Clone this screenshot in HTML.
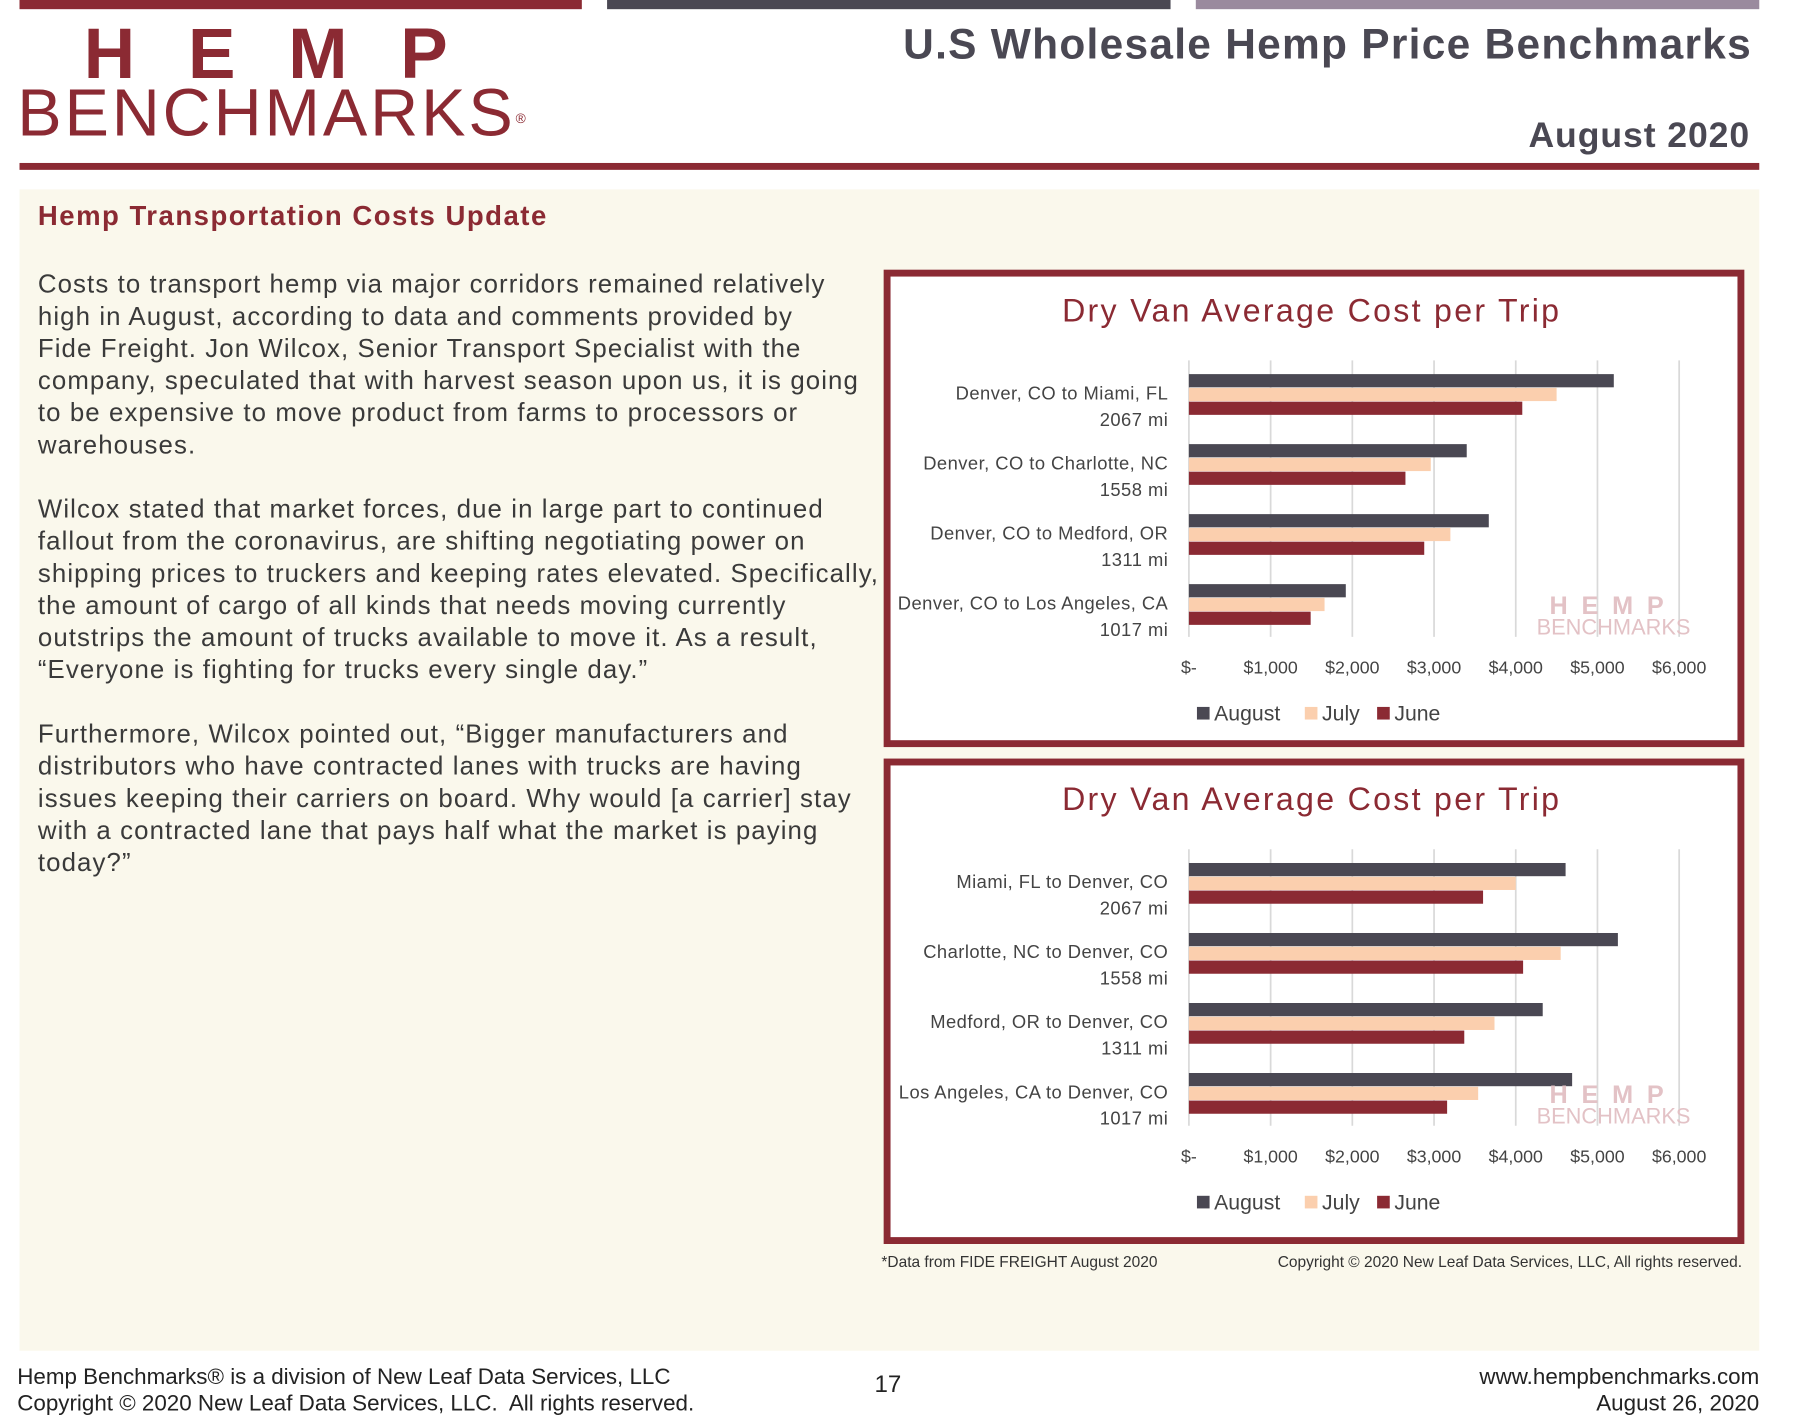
<!DOCTYPE html>
<html><head><meta charset="utf-8"><style>
html,body{margin:0;padding:0;background:#fff;width:1800px;height:1423px;overflow:hidden}
#wrap{position:absolute;left:0;top:0;width:1568px;height:1240px;transform-origin:0 0;transform:scale(1.1476,1.1476);font-family:"Liberation Sans",sans-serif}
.a{position:absolute;white-space:nowrap}
</style></head><body>
<div id="wrap">
<div class="a" style="left:17px;top:0;width:490px;height:8px;background:#8b2a33"></div>
<div class="a" style="left:529px;top:0;width:491px;height:8px;background:#4a4853"></div>
<div class="a" style="left:1042px;top:0;width:491px;height:8px;background:#9a8a9e"></div>
<div class="a" style="left:73px;top:17px;font-size:62px;font-weight:bold;color:#8b2a33;letter-spacing:46px;line-height:62px">HEMP</div>
<div class="a" style="left:15px;top:70px;font-size:58px;color:#8b2a33;line-height:58px;letter-spacing:2.5px">BENCHMARKS<sup style="font-size:12px;vertical-align:top;position:relative;top:4px">®</sup></div>
<div class="a" style="left:787px;top:18px;font-size:37px;font-weight:bold;color:#4a4853;letter-spacing:1.1px">U.S Wholesale Hemp Price Benchmarks</div>
<div class="a" style="right:43px;top:100px;font-size:31px;font-weight:bold;color:#4a4853;letter-spacing:0.8px">August 2020</div>
<div class="a" style="left:17px;top:142px;width:1516px;height:6px;background:#8b2a33"></div>
<div class="a" style="left:17px;top:165px;width:1516px;height:1012px;background:#faf8ec"></div>
<div class="a" style="left:33px;top:175px;font-size:24px;font-weight:bold;color:#8b2a33;letter-spacing:1.3px">Hemp Transportation Costs Update</div>
<div class="a" style="left:33px;top:234px;font-size:22.5px;line-height:28px;color:#3a3a3a;letter-spacing:0.95px">Costs to transport hemp via major corridors remained relatively<br>high in August, according to data and comments provided by<br>Fide Freight. Jon Wilcox, Senior Transport Specialist with the<br>company, speculated that with harvest season upon us, it is going<br>to be expensive to move product from farms to processors or<br>warehouses.<br><br>Wilcox stated that market forces, due in large part to continued<br>fallout from the coronavirus, are shifting negotiating power on<br>shipping prices to truckers and keeping rates elevated. Specifically,<br>the amount of cargo of all kinds that needs moving currently<br>outstrips the amount of trucks available to move it. As a result,<br>“Everyone is fighting for trucks every single day.”<br><br>Furthermore, Wilcox pointed out, “Bigger manufacturers and<br>distributors who have contracted lanes with trucks are having<br>issues keeping their carriers on board. Why would [a carrier] stay<br>with a contracted lane that pays half what the market is paying<br>today?”</div>
<svg id="charts" class="a" style="left:0;top:0" width="1568" height="1240"></svg>
<div class="a" style="left:768px;top:1092px;font-size:13.5px;color:#333">*Data from FIDE FREIGHT August 2020</div>
<div class="a" style="right:50px;top:1092px;font-size:13.5px;color:#333">Copyright © 2020 New Leaf Data Services, LLC, All rights reserved.</div>
<div class="a" style="left:15px;top:1189px;font-size:19.5px;line-height:23px;color:#222">Hemp Benchmarks® is a division of New Leaf Data Services, LLC<br>Copyright © 2020 New Leaf Data Services, LLC.&nbsp; All rights reserved.</div>
<div class="a" style="left:762px;top:1195px;font-size:21px;color:#222">17</div>
<div class="a" style="right:35px;top:1189px;font-size:19.5px;line-height:23px;color:#222;text-align:right">www.hempbenchmarks.com<br>August 26, 2020</div>
</div>
<script>
const ticks = ["$-","$1,000","$2,000","$3,000","$4,000","$5,000","$6,000"];
const tickValues = [0,1000,2000,3000,4000,5000,6000];
const seriesNames = ["August","July","June"];
const chart1Routes = ["Denver, CO to Miami, FL","Denver, CO to Charlotte, NC","Denver, CO to Medford, OR","Denver, CO to Los Angeles, CA"];
const chart1Miles = ["2067 mi","1558 mi","1311 mi","1017 mi"];
const chart1August = [5200,3400,3670,1920];
const chart1July = [4500,2960,3200,1660];
const chart1June = [4080,2650,2880,1490];
const chart2Routes = ["Miami, FL to Denver, CO","Charlotte, NC to Denver, CO","Medford, OR to Denver, CO","Los Angeles, CA to Denver, CO"];
const chart2Miles = ["2067 mi","1558 mi","1311 mi","1017 mi"];
const chart2August = [4610,5250,4330,4690];
const chart2July = [4000,4550,3740,3540];
const chart2June = [3600,4090,3370,3160];

const colors = ["#4a4853","#fbcfae","#8b2a33"];
const NS = "http://www.w3.org/2000/svg";
const svg = document.getElementById('charts');
function el(tag, attrs, parent, txt){
  const e = document.createElementNS(NS, tag);
  for (const k in attrs) e.setAttribute(k, attrs[k]);
  if (txt !== undefined) e.textContent = txt;
  (parent || svg).appendChild(e);
  return e;
}
function drawChart(top, h, routes, miles, series, id){
  const g = el('g', {});
  
  
  const fr = el('rect', {x:773, y:top+3, width:744, height:h-6, fill:'#fff', stroke:'#8b2a33', 'stroke-width':6}, g);
  
  
  const t = el('text', {x:1143, y:top+45, 'text-anchor':'middle', 'font-size':28, fill:'#8b2a33', 'letter-spacing':'2', 'font-family':'Liberation Sans, sans-serif'}, g, 'Dry Van Average Cost per Trip');
  
  
  const x0 = 1036, perK = 71.2;
  const xs = v => x0 + v / 1000 * perK;
  const gy0 = top + 79, gy1 = top + 320;
  tickValues.forEach((v, i) => {
    const ln = el('line', {x1:xs(v), x2:xs(v), y1:gy0, y2:gy1, stroke:'#d9d9d9', 'stroke-width':1.5}, g);
    
    
    const tl = el('text', {x:xs(v), y:top+352, 'text-anchor':'middle', 'font-size':15.5, fill:'#444'}, g, ticks[i]);
    
    
  });
  routes.forEach((r, i) => {
    const by = top + 91 + i * 61;
    series.forEach((s, j) => {
      const b = el('rect', {x:x0, y:by + j*12, width:xs(s[i]) - x0, height:11.5, fill:colors[j]}, g);
      
      
    });
    const l1 = el('text', {x:1018, y:by+22, 'text-anchor':'end', 'font-size':16, 'letter-spacing':'0.4', fill:'#444'}, g, r);
    
    
    const l2 = el('text', {x:1018, y:by+45, 'text-anchor':'end', 'font-size':16, 'letter-spacing':'0.4', fill:'#444'}, g, miles[i]);
    
    
  });
  const wm = el('text', {x:1406, y:top+300, 'text-anchor':'middle', 'font-size':22, 'font-weight':'bold', fill:'#e3c2c6', 'letter-spacing':'12'}, g, 'HEMP');
  
  
  const wm2 = el('text', {x:1406, y:top+318, 'text-anchor':'middle', 'font-size':19, fill:'#e3c2c6'}, g, 'BENCHMARKS');
  
  
  const lx = [1043, 1137, 1200];
  seriesNames.forEach((n, j) => {
    const sq = el('rect', {x:lx[j], y:top+381, width:11, height:11, fill:colors[j]}, g);
    
    
    const lt = el('text', {x:lx[j]+15, y:top+393, 'font-size':18.5, fill:'#444'}, g, n);
    
    
  });
}
drawChart(235, 416, chart1Routes, chart1Miles, [chart1August, chart1July, chart1June], 'chart-outbound');
drawChart(661, 423, chart2Routes, chart2Miles, [chart2August, chart2July, chart2June], 'chart-inbound');
</script>
</body></html>
